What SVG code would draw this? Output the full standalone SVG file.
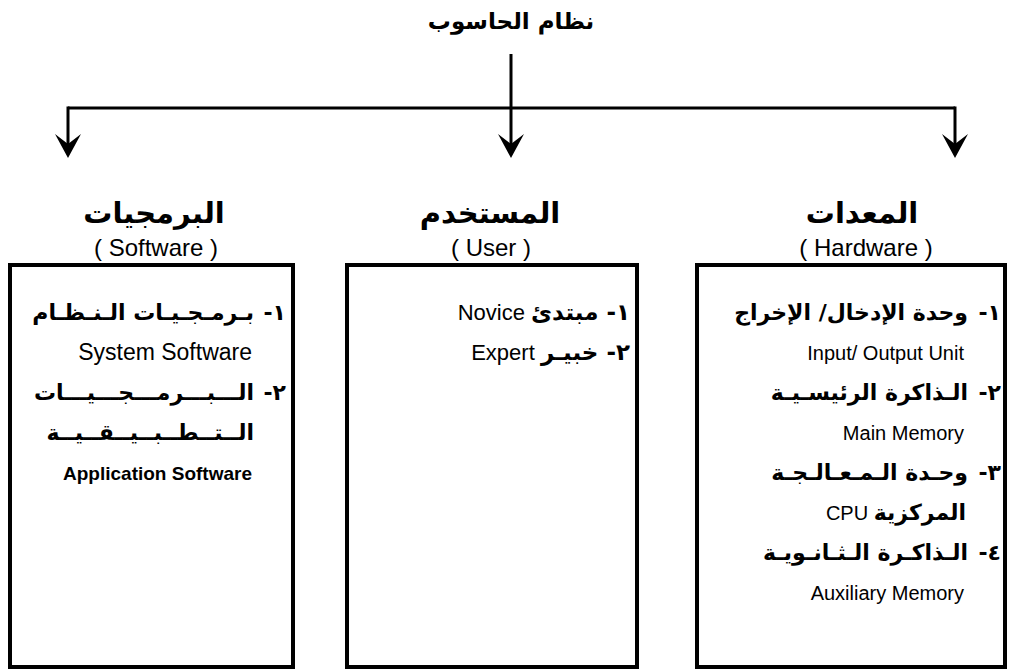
<svg xmlns="http://www.w3.org/2000/svg" width="1011" height="671" viewBox="0 0 1011 671">
<style>
.ar{font-family:"DejaVu Sans","Liberation Sans",sans-serif;font-weight:bold;fill:#000;direction:rtl;unicode-bidi:embed}
.en{font-family:"Liberation Sans","DejaVu Sans",sans-serif;fill:#000}
.title{font-size:23px;text-anchor:middle}
.head{font-size:29px;text-anchor:middle}
.sub{font-size:24px;text-anchor:middle}
.item{font-size:22px;text-anchor:start}
.eitem{font-size:20px;text-anchor:end}
.box{fill:#fff;stroke:#000;stroke-width:4}
.conn{fill:none;stroke:#000;stroke-width:3}
</style>
<defs>
<marker id="arr" markerUnits="userSpaceOnUse" markerWidth="28" markerHeight="30" viewBox="-26 -15 28 30" refX="-12" refY="0" orient="auto">
<path d="M0,0 L-24,-13 L-14,0 L-24,13 Z" fill="#000"/>
</marker>
</defs>
<text class="ar title" x="511" y="29">نظام الحاسوب</text>
<g id="connectors">
<path class="conn" d="M511,54 V108"/>
<path class="conn" d="M68,108 H955"/>
<path class="conn" d="M68,106.5 V146" marker-end="url(#arr)"/>
<path class="conn" d="M511,108 V146" marker-end="url(#arr)"/>
<path class="conn" d="M955,106.5 V146" marker-end="url(#arr)"/>
</g>
<g id="software">
<text class="ar head" x="154" y="223">البرمجيات</text>
<text class="en sub" x="156" y="256">( Software )</text>
<rect class="box" x="10" y="265" width="283" height="402"/>
<text class="ar item" x="286" y="320">١-</text>
<text class="ar item" x="254" y="320">بـرمـجـيـات الـنـظـام</text>
<text class="en eitem" x="252" y="360" style="font-size:23px">System Software</text>
<text class="ar item" x="286" y="400">٢-</text>
<text class="ar item" x="254" y="400">الـــبـــرمـــجـــيـــات</text>
<text class="ar item" x="254" y="440">الــتــطــبــيــقــيــة</text>
<text class="en eitem" x="252" y="480" style="font-weight:bold;font-size:19px">Application Software</text>
</g>
<g id="user">
<text class="ar head" x="490" y="223">المستخدم</text>
<text class="en sub" x="491" y="256">( User )</text>
<rect class="box" x="347" y="265" width="290" height="402"/>
<text class="ar item" x="630" y="320" style="font-size:23px"><tspan>١- مبتدئ</tspan><tspan class="en" style="font-weight:normal;font-size:22px"> Novice</tspan></text>
<text class="ar item" x="630" y="360" style="font-size:23px"><tspan>٢- خبيـر</tspan><tspan class="en" style="font-weight:normal;font-size:22px"> Expert</tspan></text>
</g>
<g id="hardware">
<text class="ar head" x="862" y="223">المعدات</text>
<text class="en sub" x="866" y="256">( Hardware )</text>
<rect class="box" x="697" y="265" width="308" height="402"/>
<text class="ar item" x="1001" y="320">١-</text>
<text class="ar item" x="968" y="320">وحدة الإدخال/ الإخراج</text>
<text class="en eitem" x="964" y="360">Input/ Output Unit</text>
<text class="ar item" x="1001" y="400">٢-</text>
<text class="ar item" x="968" y="400">الـذاكرة الرئيسـيـة</text>
<text class="en eitem" x="964" y="440">Main Memory</text>
<text class="ar item" x="1001" y="480">٣-</text>
<text class="ar item" x="968" y="480">وحـدة الـمـعـالـجـة</text>
<text class="ar item" x="966" y="520"><tspan>المركزية</tspan><tspan class="en" style="font-weight:normal;font-size:20px"> CPU</tspan></text>
<text class="ar item" x="1001" y="560">٤-</text>
<text class="ar item" x="968" y="560">الـذاكـرة الـثـانـويـة</text>
<text class="en eitem" x="964" y="600">Auxiliary Memory</text>
</g>
</svg>
